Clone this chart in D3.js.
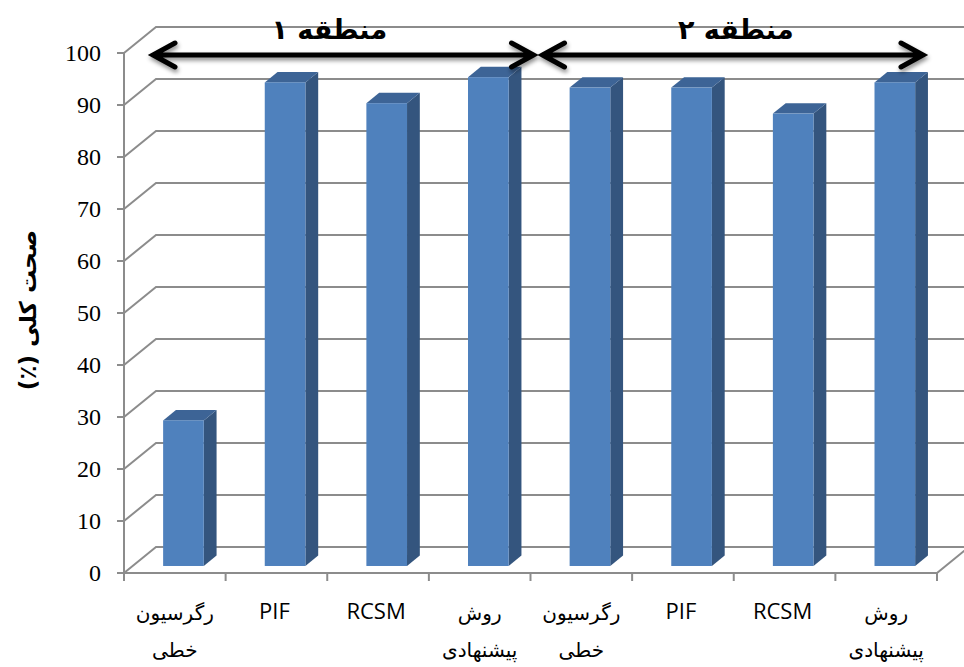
<!DOCTYPE html>
<html>
<head>
<meta charset="utf-8">
<script src="https://cdn.jsdelivr.net/npm/d3@7"></script>
<style>
  html, body { margin: 0; padding: 0; background: #ffffff; }
  svg { display: block; }
</style>
</head>
<body>
<svg id="chart" width="964" height="667"></svg>
<script>
// Overall accuracy of each method in the two study regions
const categories = ["رگرسیون خطی", "PIF", "RCSM", "روش پیشنهادی",
                    "رگرسیون خطی", "PIF", "RCSM", "روش پیشنهادی"];
const accuracy = [28, 93, 89, 94, 92, 92, 87, 93];
const yTicks = [0, 10, 20, 30, 40, 50, 60, 70, 80, 90, 100];
const regions = ["منطقه ۱", "منطقه ۲"];
const regionSpans = [[0, 3], [4, 7]];
const yTitle = "صحت کلی (٪)";

const svg = d3.select("#chart");

// front plane of the 3D box
const x = d3.scaleBand().domain(d3.range(categories.length)).range([124, 937]);
const y = d3.scaleLinear().domain([0, 100]).range([573, 53]);

// oblique depth vector of the full box
const DX = 32, DY = -26;
const depthFront = 0.27, depthBack = 0.67;
const barFrac = 0.4;

const gridColor = "#8c8c8c";
const persianFont = "'DejaVu Sans', 'Noto Sans', sans-serif";

// back wall + side wall gridlines
const grid = svg.append("g").attr("fill", "none").attr("stroke", gridColor).attr("stroke-width", 2);
yTicks.forEach(t => {
  const y0 = y(t);
  grid.append("path")
    .attr("d", `M${x.range()[0]},${y0} L${x.range()[0] + DX},${y0 + DY} L${x.range()[1] + DX},${y0 + DY}`);
});
// floor: front edge and right edge
grid.append("path")
  .attr("d", `M${x.range()[0]},${y(0)} L${x.range()[1]},${y(0)} L${x.range()[1] + DX},${y(0) + DY}`);

// bars as 3D boxes
const bars = svg.append("g");
accuracy.forEach((v, i) => {
  const cx = x(i) + x.bandwidth() / 2;
  const w = x.bandwidth() * barFrac;
  const ox = DX * depthFront, oy = DY * depthFront;
  const dx = DX * (depthBack - depthFront), dy = DY * (depthBack - depthFront);
  const x0 = cx - w / 2 + ox, x1 = cx + w / 2 + ox;
  const yb = y(0) + oy, yt = y(v) + oy;
  const g = bars.append("g");
  // side face
  g.append("path")
    .attr("d", `M${x1},${yb} L${x1 + dx},${yb + dy} L${x1 + dx},${yt + dy} L${x1},${yt} Z`)
    .attr("fill", "#34557e");
  // top face
  g.append("path")
    .attr("d", `M${x0},${yt} L${x0 + dx},${yt + dy} L${x1 + dx},${yt + dy} L${x1},${yt} Z`)
    .attr("fill", "#3d6496");
  // front face
  g.append("rect")
    .attr("x", x0).attr("y", yt).attr("width", w).attr("height", yb - yt)
    .attr("fill", "#4f81bd");
});

// front vertical axis with ticks
const axisG = svg.append("g").attr("stroke", gridColor).attr("stroke-width", 2).attr("fill", "none");
axisG.append("line")
  .attr("x1", x.range()[0]).attr("x2", x.range()[0])
  .attr("y1", y(100)).attr("y2", y(0));
yTicks.forEach(t => {
  axisG.append("line")
    .attr("x1", x.range()[0] - 7).attr("x2", x.range()[0])
    .attr("y1", y(t)).attr("y2", y(t));
});
// category boundary ticks under the floor
d3.range(categories.length + 1).forEach(i => {
  const xx = i < categories.length ? x(i) : x.range()[1];
  axisG.append("line")
    .attr("x1", xx).attr("x2", xx)
    .attr("y1", y(0)).attr("y2", y(0) + 8);
});

// y tick labels
svg.append("g")
  .selectAll("text")
  .data(yTicks)
  .join("text")
  .attr("x", 101)
  .attr("y", d => y(d))
  .attr("dy", "0.35em")
  .attr("text-anchor", "end")
  .style("font-family", "'Liberation Serif', 'DejaVu Serif', serif")
  .attr("font-size", 24)
  .attr("fill", "#000")
  .text(d => d);

// category labels (two lines for Persian names)
const catG = svg.append("g");
categories.forEach((c, i) => {
  const cx = x(i) + x.bandwidth() / 2;
  const latin = /^[A-Za-z]/.test(c);
  const parts = c.split(" ");
  if (latin) {
    catG.append("text")
      .attr("x", cx - 2).attr("y", 619)
      .attr("text-anchor", "middle")
      .attr("font-family", "'Open Sans', sans-serif")
      .attr("font-size", 22)
      .attr("fill", "#000")
      .text(c);
  } else {
    parts.forEach((p, k) => {
      catG.append("text")
        .attr("x", cx).attr("y", 620 + k * 37)
        .attr("text-anchor", "middle")
        .attr("direction", "rtl")
        .attr("font-family", persianFont)
        .attr("font-size", 20)
        .attr("fill", "#000")
        .text(p);
    });
  }
});

// y axis title
svg.append("text")
  .attr("transform", `translate(36,310) rotate(-90)`)
  .attr("text-anchor", "middle")
  .attr("direction", "rtl")
  .attr("font-family", persianFont)
  .attr("font-weight", "bold")
  .attr("font-size", 23)
  .attr("fill", "#000")
  .text(yTitle);

// region arrows with soft shadow
const defs = svg.append("defs");
const f = defs.append("filter").attr("id", "shadow").attr("x", "-10%").attr("y", "-100%").attr("width", "120%").attr("height", "300%");
f.append("feDropShadow").attr("dx", 1).attr("dy", 3).attr("stdDeviation", 2)
  .attr("flood-color", "#000").attr("flood-opacity", 0.45);

const arrowY = 55;
const arrowExt = [[29, 3], [12, -14]];
regionSpans.forEach((span, r) => {
  const xa = x(span[0]) + arrowExt[r][0];
  const xb = x(span[1]) + x.bandwidth() + arrowExt[r][1];
  const headL = 22, headH = 12;
  svg.append("path")
    .attr("d", `M${xa},${arrowY} L${xb},${arrowY}
                M${xa + headL},${arrowY - headH} L${xa},${arrowY} L${xa + headL},${arrowY + headH}
                M${xb - headL},${arrowY - headH} L${xb},${arrowY} L${xb - headL},${arrowY + headH}`)
    .attr("fill", "none")
    .attr("stroke", "#000")
    .attr("stroke-width", 5)
    .attr("stroke-linecap", "round")
    .attr("stroke-linejoin", "miter")
    .attr("filter", "url(#shadow)");
  svg.append("text")
    .attr("x", (x(span[0]) + x(span[1]) + x.bandwidth()) / 2 + 2)
    .attr("y", 39)
    .attr("text-anchor", "middle")
    .attr("direction", "rtl")
    .attr("font-family", persianFont)
    .attr("font-weight", "bold")
    .attr("font-size", 27)
    .attr("fill", "#000")
    .text(regions[r]);
});
</script>
</body>
</html>
